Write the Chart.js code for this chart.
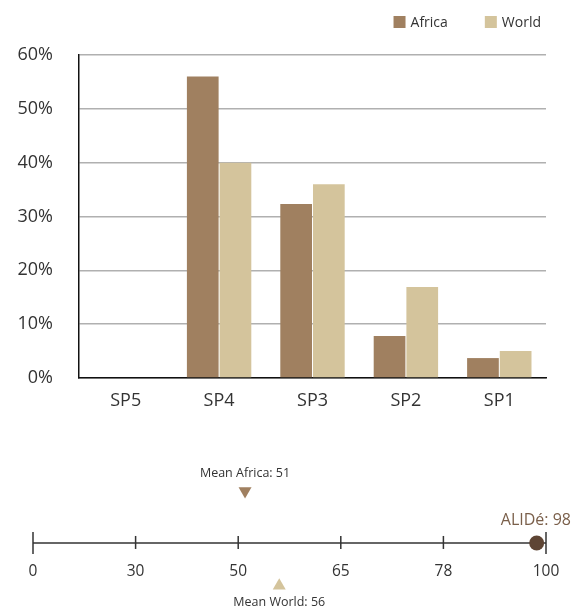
<!DOCTYPE html>
<html>
<head>
<meta charset="utf-8">
<script src="https://cdn.jsdelivr.net/npm/chart.js@4/dist/chart.umd.min.js"></script>
<style>
  html, body { margin: 0; padding: 0; background: #fff; }
  #wrap { width: 572px; height: 607px; position: relative; overflow: hidden; }
  #bars { position: absolute; left: 0; top: 0; }
  #scale { position: absolute; left: 0; top: 430px; }
</style>
</head>
<body>
<div id="wrap">
  <canvas id="bars" width="572" height="430"></canvas>
  <canvas id="scale" width="572" height="177"></canvas>
</div>
<script>
// Share of population by level (%)
const categories = ['SP5', 'SP4', 'SP3', 'SP2', 'SP1'];
const africaShare = [0, 56, 32.3, 7.8, 3.7];
const worldShare = [0, 40, 36, 16.9, 5];
const yTicks = [0, 10, 20, 30, 40, 50, 60];

// Index scale (0-100) with unevenly spaced reference marks
const scaleMarks = [0, 30, 50, 65, 78, 100];
const meanAfrica = 51;
const meanWorld = 56;
const alideScore = 98;

const AFRICA = '#a08060';
const WORLD = '#d4c49c';
const TEXT = '#333333';
const FONT = "'Open Sans', 'DejaVu Sans', sans-serif";

Chart.defaults.font.family = FONT;
Chart.defaults.color = TEXT;
Chart.defaults.animation = false;

// Small square-swatch legend in the top right corner
const cornerLegend = {
  id: 'cornerLegend',
  afterDraw(chart) {
    const ctx = chart.ctx;
    const sets = chart.data.datasets;
    ctx.save();
    ctx.font = '14px ' + FONT;
    ctx.textBaseline = 'middle';
    ctx.textAlign = 'left';
    const box = 12, gap = 5, spacing = 37, cy = 22;
    const right = chart.chartArea.right - 5;
    const items = sets.map(d => ({ d, w: box + gap + ctx.measureText(d.label).width }));
    let x = right - items.reduce((s, it) => s + it.w, 0) - spacing * (items.length - 1);
    items.forEach(it => {
      ctx.fillStyle = it.d.backgroundColor;
      ctx.fillRect(x, cy - box / 2, box, box);
      ctx.fillStyle = TEXT;
      ctx.fillText(it.d.label, x + box + gap, cy + 1);
      x += it.w + spacing;
    });
    ctx.restore();
  }
};

new Chart(document.getElementById('bars'), {
  type: 'bar',
  data: {
    labels: categories,
    datasets: [
      { label: 'Africa', data: africaShare, backgroundColor: AFRICA,
        categoryPercentage: 0.7, barPercentage: 0.97 },
      { label: 'World', data: worldShare, backgroundColor: WORLD,
        categoryPercentage: 0.7, barPercentage: 0.97 }
    ]
  },
  options: {
    responsive: false,
    layout: { autoPadding: false, padding: { left: 0, right: 26, top: 55, bottom: 0 } },
    plugins: { legend: { display: false }, tooltip: { enabled: false } },
    scales: {
      x: {
        afterFit: s => { s.height = 52; },
        grid: { display: false },
        border: { color: '#111', width: 1.5 },
        ticks: { font: { size: 18 }, color: TEXT, padding: 4 }
      },
      y: {
        min: 0, max: 60,
        afterBuildTicks: s => { s.ticks = yTicks.map(v => ({ value: v })); },
        afterFit: s => { s.width = 79; },
        grid: { color: '#b0b0b0', lineWidth: 1.5, drawTicks: false },
        border: { color: '#111', width: 1.5 },
        ticks: { font: { size: 18 }, color: TEXT, padding: 26,
                 callback: v => v + '%' }
      }
    }
  },
  plugins: [cornerLegend]
});

// Position of a score along the evenly spaced reference marks
function markPos(v) {
  for (let i = 0; i < scaleMarks.length - 1; i++) {
    const a = scaleMarks[i], b = scaleMarks[i + 1];
    if (v <= b) return i + (v - a) / (b - a);
  }
  return scaleMarks.length - 1;
}

// Rows of the marker strip: above and below the number line
const ROW_ABOVE = 1, ROW_BELOW = -0.82;

const numberLine = {
  id: 'numberLine',
  beforeDatasetsDraw(chart) {
    const ctx = chart.ctx, x = chart.scales.x, y = chart.scales.y;
    const y0 = y.getPixelForValue(0);
    ctx.save();
    ctx.strokeStyle = '#333';
    ctx.lineWidth = 1.5;
    ctx.beginPath();
    ctx.moveTo(x.getPixelForValue(0), y0);
    ctx.lineTo(x.getPixelForValue(scaleMarks.length - 1), y0);
    ctx.stroke();
    ctx.font = '15.5px ' + FONT;
    ctx.fillStyle = TEXT;
    ctx.textAlign = 'center';
    ctx.textBaseline = 'middle';
    scaleMarks.forEach((m, i) => {
      const px = x.getPixelForValue(i);
      const end = i === 0 || i === scaleMarks.length - 1;
      ctx.beginPath();
      ctx.moveTo(px, y0 - (end ? 11 : 7));
      ctx.lineTo(px, y0 + (end ? 11 : 6));
      ctx.stroke();
      ctx.fillText(String(m), px, y0 + 29);
    });
    ctx.restore();
  },
  afterDatasetsDraw(chart) {
    const ctx = chart.ctx, x = chart.scales.x, y = chart.scales.y;
    ctx.save();
    ctx.textBaseline = 'middle';
    ctx.font = '12.5px ' + FONT;
    ctx.fillStyle = TEXT;
    ctx.textAlign = 'center';
    const pa = x.getPixelForValue(markPos(meanAfrica));
    ctx.fillText('Mean Africa: ' + meanAfrica, pa, y.getPixelForValue(ROW_ABOVE) - 17);
    const pw = x.getPixelForValue(markPos(meanWorld));
    ctx.fillText('Mean World: ' + meanWorld, pw, y.getPixelForValue(ROW_BELOW) + 17);
    ctx.font = '16px ' + FONT;
    ctx.fillStyle = '#7a5f4a';
    ctx.textAlign = 'right';
    ctx.fillText('ALIDé: ' + alideScore, chart.width - 1, y.getPixelForValue(0) - 23);
    ctx.restore();
  }
};

new Chart(document.getElementById('scale'), {
  type: 'scatter',
  data: {
    datasets: [
      { data: [{ x: markPos(meanAfrica), y: ROW_ABOVE }], pointStyle: 'triangle',
        rotation: 180, radius: 7.5, backgroundColor: AFRICA, borderWidth: 0 },
      { data: [{ x: markPos(meanWorld), y: ROW_BELOW }], pointStyle: 'triangle',
        radius: 7.5, backgroundColor: WORLD, borderWidth: 0 },
      { data: [{ x: markPos(alideScore), y: 0 }], pointStyle: 'circle',
        radius: 7.5, backgroundColor: '#5e4534', borderWidth: 0 }
    ]
  },
  options: {
    responsive: false,
    layout: { autoPadding: false, padding: { left: 33, right: 26, top: 0, bottom: 0 } },
    plugins: { legend: { display: false }, tooltip: { enabled: false } },
    scales: {
      x: { type: 'linear', min: 0, max: scaleMarks.length - 1, display: false },
      y: { type: 'linear', min: -1.23, max: 2.17, display: false }
    }
  },
  plugins: [numberLine]
});
</script>
</body>
</html>
